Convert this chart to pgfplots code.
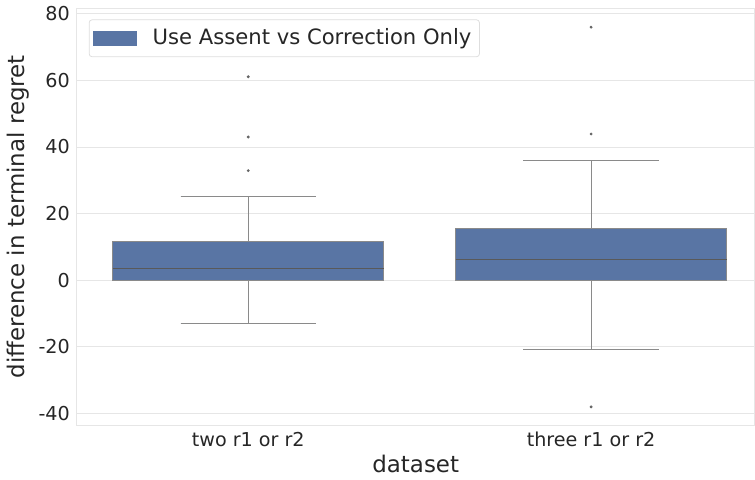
\documentclass[border=0pt]{standalone}
\usepackage{pgfplots}
\pgfplotsset{compat=1.18}
\usepgfplotslibrary{statistics}
\usepackage{fontspec}
\setmainfont{DejaVu Sans}
\definecolor{boxblue}{HTML}{5975A4}
\definecolor{gridgray}{HTML}{E6E6E6}
\definecolor{whisk}{HTML}{8A8A8A}
\begin{document}
\begin{tikzpicture}
% categories sit at 0 and 100 on the x axis
\begin{axis}[
  scale only axis,
  width=340pt, height=209pt,
  xmin=-50, xmax=147.7,
  ymin=-43.6, ymax=81.6,
  xtick={0,100}, xticklabels={two r1 or r2, three r1 or r2},
  ytick={-40,-20,0,20,40,60,80},
  /pgf/number format/assume math mode=true,
  ticklabel style={font=\fontsize{9.6}{11}\selectfont, text=black!85},
  xlabel={dataset}, ylabel={difference in terminal regret},
  label style={font=\fontsize{11.5}{13}\selectfont, text=black!85},
  xlabel style={yshift=3pt},
  ylabel style={yshift=-2pt},
  tick style={draw=none},
  axis line style={gridgray, line width=0.4pt},
  ymajorgrids, grid style={gridgray, line width=0.4pt},
  legend style={at={(0.0176,0.974)}, anchor=north west,
    draw=black!13, fill=white, rounded corners=1.5pt,
    font=\fontsize{10.6}{12}\selectfont, text=black!85,
    inner xsep=2pt, inner ysep=2.5pt},
  legend cell align=left,
  boxplot/draw direction=y,
]
\addlegendimage{legend image code/.code={%
  \fill[boxblue, sharp corners] (0pt,-3.5pt) rectangle (21.5pt,3.5pt);
  \path (27.5pt,0pt);}}
\addlegendentry{Use Assent vs Correction Only}

% two r1 or r2
\addplot[boxplot prepared={draw position=0,
    lower whisker=-12.9, lower quartile=0, median=3.4,
    upper quartile=11.7, upper whisker=25.1,
    box extend=79, whisker extend=39.5},
  fill=boxblue, draw=whisk, line width=0.4pt,
  boxplot/every median/.style={draw=black!65, line width=0.4pt},
  mark=*, mark size=0.5pt, mark options={fill=black!60, draw=black!60},
  forget plot]
  table[row sep=\\, y index=0] {data\\ 32.9\\ 43.0\\ 61.1\\};

% three r1 or r2
\addplot[boxplot prepared={draw position=100,
    lower whisker=-20.9, lower quartile=0, median=6.1,
    upper quartile=15.6, upper whisker=36.0,
    box extend=79, whisker extend=39.5},
  fill=boxblue, draw=whisk, line width=0.4pt,
  boxplot/every median/.style={draw=black!65, line width=0.4pt},
  mark=*, mark size=0.5pt, mark options={fill=black!60, draw=black!60},
  forget plot]
  table[row sep=\\, y index=0] {data\\ 76.0\\ 43.9\\ -38.1\\};
\end{axis}
\end{tikzpicture}
\end{document}
